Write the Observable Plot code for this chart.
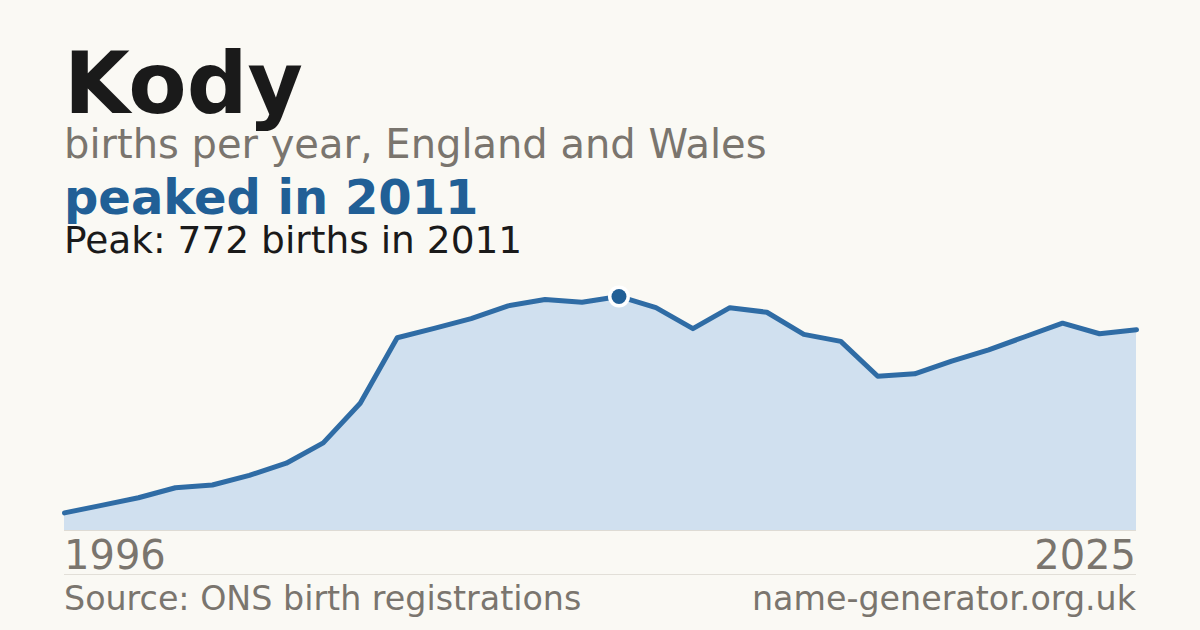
<!DOCTYPE html>
<html>
<head>
<meta charset="utf-8">
<script src="https://cdn.jsdelivr.net/npm/d3@7"></script>
<script src="https://cdn.jsdelivr.net/npm/@observablehq/plot@0.6"></script>
<style>
  html, body { margin: 0; padding: 0; background: #faf9f4; }
  body { width: 1200px; height: 630px; position: relative; overflow: hidden; font-family: "DejaVu Sans", sans-serif; }
  .t { position: absolute; left: 64px; line-height: 0.85; white-space: nowrap; }
  #title { top: 48px; font-size: 85px; font-weight: bold; color: #1a1a1a; }
  #sub { top: 127px; font-size: 40px; color: #7a756e; }
  #hl { top: 177px; font-size: 48px; font-weight: bold; color: #215f96; }
  #peak { top: 225px; font-size: 37.5px; color: #1a1a1a; }
  #axis { position: absolute; left: 64px; width: 1072px; top: 535px; font-size: 40px; line-height: 1; color: #7a756e; display: flex; justify-content: space-between; }
  #sep { position: absolute; left: 64px; width: 1072px; top: 574px; height: 1px; background: #e2dfd8; }
  #foot { position: absolute; left: 64px; width: 1072px; top: 582px; font-size: 33.3px; line-height: 1; color: #7a756e; display: flex; justify-content: space-between; }
  #chart { position: absolute; left: 0; top: 270px; }
</style>
</head>
<body>
<div class="t" id="title"></div>
<div class="t" id="sub"></div>
<div class="t" id="hl"></div>
<div class="t" id="peak"></div>
<div id="chart"></div>
<div id="axis"><span id="x0"></span><span id="x1"></span></div>
<div id="sep"></div>
<div id="foot"><span id="src"></span><span id="site"></span></div>
<script>
const name = "Kody";
const subtitle = "births per year, England and Wales";
const sourceText = "Source: ONS birth registrations";
const siteText = "name-generator.org.uk";

const years = [1996,1997,1998,1999,2000,2001,2002,2003,2004,2005,2006,2007,2008,2009,2010,
               2011,2012,2013,2014,2015,2016,2017,2018,2019,2020,2021,2022,2023,2024,2025];
const births = [58,83,108,141,150,182,222,289,420,636,667,699,741,762,753,
                772,735,666,735,720,647,624,509,517,559,596,640,684,649,662];

const data = years.map((y, i) => ({year: y, births: births[i]}));
const peakIdx = d3.maxIndex(births);
const peak = [data[peakIdx]];

document.getElementById("title").textContent = name;
document.getElementById("sub").textContent = subtitle;
document.getElementById("hl").textContent = `peaked in ${years[peakIdx]}`;
document.getElementById("peak").textContent = `Peak: ${births[peakIdx]} births in ${years[peakIdx]}`;
document.getElementById("x0").textContent = years[0];
document.getElementById("x1").textContent = years[years.length - 1];
document.getElementById("src").textContent = sourceText;
document.getElementById("site").textContent = siteText;

const chart = Plot.plot({
  width: 1200,
  height: 262,
  marginLeft: 64,
  marginRight: 64,
  marginTop: 0,
  marginBottom: 2,
  style: { background: "transparent", overflow: "visible" },
  x: { domain: [years[0], years[years.length - 1]], axis: null },
  y: { domain: [0, births[peakIdx] * 1.111], axis: null },
  marks: [
    Plot.areaY(data, { x: "year", y: "births", fill: "#d0e0ef" }),
    Plot.ruleY([0], { stroke: "#dedbd4", strokeWidth: 1 }),
    Plot.lineY(data, { x: "year", y: "births", stroke: "#2f6ca5", strokeWidth: 5, strokeLinejoin: "round" }),
    Plot.dot(peak, { x: "year", y: "births", r: 11, fill: "#ffffff" }),
    Plot.dot(peak, { x: "year", y: "births", r: 7.5, fill: "#215f96" })
  ]
});
document.getElementById("chart").appendChild(chart);
</script>
</body>
</html>
